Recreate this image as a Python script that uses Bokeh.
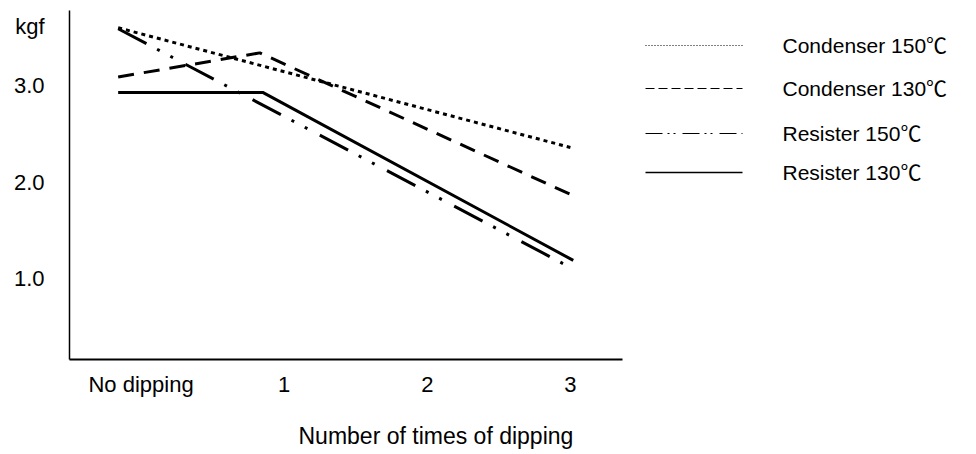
from bokeh.plotting import figure
from bokeh.layouts import row, column
from bokeh.models import Range1d, FixedTicker
from bokeh.core.properties import value
from bokeh.embed import file_html
from bokeh.resources import INLINE

# ---- data ----
x_ticks = [0, 1, 2, 3]
x_tick_labels = ["No dipping", "1", "2", "3"]
y_ticks = [1.0, 2.0, 3.0]
y_tick_labels = ["1.0", "2.0", "3.0"]
y_unit = "kgf"
y_unit_pos = 3.61          # unit written at the top of the value axis
x_title = "Number of times of dipping"

series_names = ["Condenser 150℃", "Condenser 130℃", "Resister 150℃", "Resister 130℃"]

cond150_x = [-0.16, 3.00]
cond150_y = [3.60, 2.36]
cond130_x = [-0.16, 0.83, 3.02]
cond130_y = [3.09, 3.34, 1.86]
res150_x = [-0.16, 2.97]
res150_y = [3.59, 1.14]
res130_x = [-0.16, 0.85, 3.02]
res130_y = [2.93, 2.93, 1.19]

FONT = "Liberation Sans, Noto Sans CJK JP"

# ---- styles ----
plot_dash = ["4 4", "16 10", "32 12 3 12 3 14", "solid"]
legend_dash = ["1 2", "9 4", "17 5 2 4 2 7", "solid"]
legend_width = [1, 1.2, 1.2, 1.5]

# ---- main chart ----
p = figure(width=626, height=404, output_backend="svg", toolbar_location=None,
           x_range=Range1d(-0.5, 3.364), y_range=Range1d(0.163, 3.779),
           min_border_left=69, min_border_top=10, min_border_right=4, min_border_bottom=45)
p.outline_line_color = None
p.xgrid.visible = False
p.ygrid.visible = False

p.xaxis.ticker = FixedTicker(ticks=x_ticks)
p.xaxis.major_label_overrides = {t: l for t, l in zip(x_ticks, x_tick_labels)}
p.yaxis.ticker = FixedTicker(ticks=y_ticks + [y_unit_pos])
ov = {t: l for t, l in zip(y_ticks, y_tick_labels)}
ov[y_unit_pos] = y_unit
p.yaxis.major_label_overrides = ov
for ax in (p.xaxis[0], p.yaxis[0]):
    ax.major_tick_line_color = None
    ax.minor_tick_line_color = None
    ax.major_tick_out = 0
    ax.major_tick_in = 0
    ax.axis_line_color = "black"
    ax.major_label_text_font = FONT
    ax.major_label_text_font_size = "22px"
    ax.major_label_text_color = "black"
p.xaxis.axis_line_width = 2
p.yaxis.axis_line_width = 1.5
p.xaxis.major_label_standoff = 12
p.yaxis.major_label_standoff = 25

series = [(cond150_x, cond150_y), (cond130_x, cond130_y), (res150_x, res150_y), (res130_x, res130_y)]
for (xs, ys), d in zip(series, plot_dash):
    p.line(xs, ys, line_color="black", line_width=3, line_dash=d)

# ---- legend panel (its frame lines up with the chart frame; data units = page pixels) ----
lg = figure(width=342, height=404, output_backend="svg", toolbar_location=None,
            x_range=Range1d(626, 968), y_range=Range1d(359, 10),
            x_axis_location=None, y_axis_location=None,
            min_border_left=0, min_border_right=0, min_border_top=10, min_border_bottom=45)
lg.outline_line_color = None
lg.xgrid.visible = False
lg.ygrid.visible = False
row_y = [45, 88, 133, 172]
for name, yy, d, w in zip(series_names, row_y, legend_dash, legend_width):
    lg.line([645, 742], [yy, yy], line_color="black", line_width=w, line_dash=d)
lg.text(x=[782] * len(series_names), y=row_y, text=series_names,
        text_font=value(FONT), text_font_size="21px", text_color="black",
        text_baseline="middle", text_align="left")

# ---- x-axis title strip ----
tt = figure(width=968, height=46, output_backend="svg", toolbar_location=None,
            x_range=Range1d(0, 968), y_range=Range1d(46, 0),
            x_axis_location=None, y_axis_location=None,
            min_border_left=0, min_border_right=0, min_border_top=0, min_border_bottom=0)
tt.outline_line_color = None
tt.xgrid.visible = False
tt.ygrid.visible = False
tt.text(x=[298], y=[31], text=[x_title], text_font=value(FONT), text_font_size="23px",
        text_color="black", text_baseline="middle", text_align="left")

layout = column(row(p, lg, spacing=0), tt, spacing=0)
open("out.html", "w").write(file_html(layout, INLINE))
